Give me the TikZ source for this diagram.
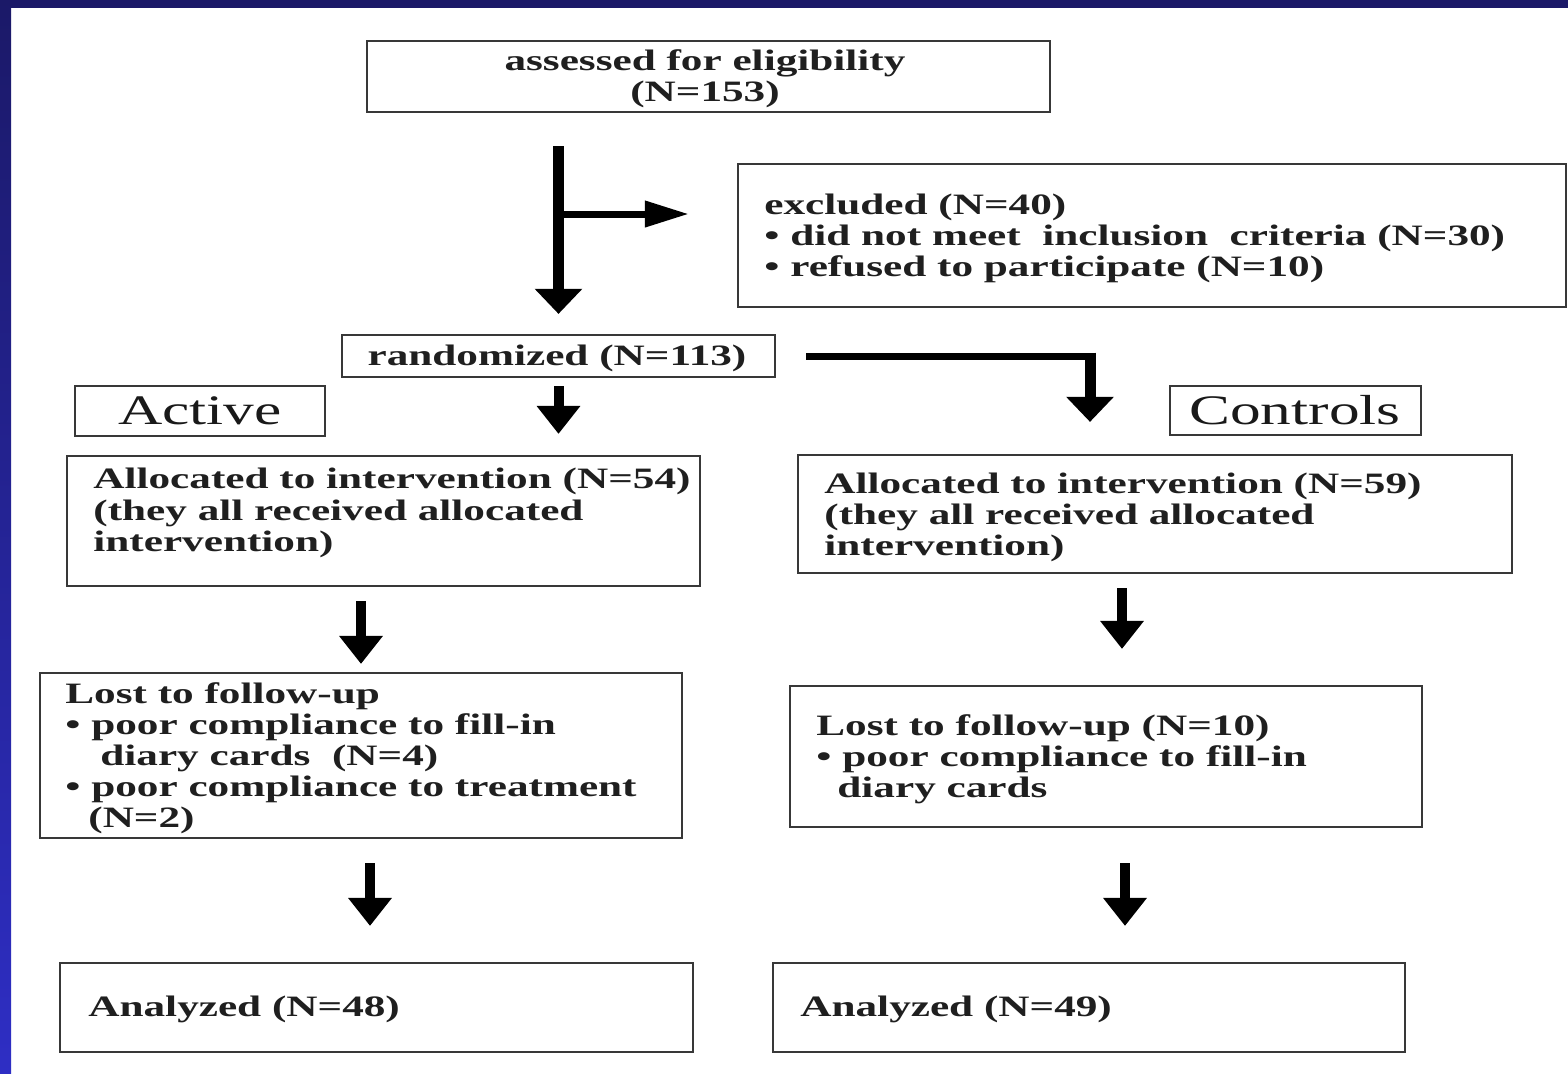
\documentclass[tikz,border=0pt]{standalone}
\usepackage{fontspec}
\newfontfamily\flowfont{Liberation Serif}[FakeStretch=1.46]
\usetikzlibrary{arrows.meta,fit,calc}
\definecolor{navy}{RGB}{27,25,104}
\definecolor{blueb}{RGB}{46,46,196}
\begin{document}
\begin{tikzpicture}[x=0.5pt,y=-0.5pt,
  box/.style={draw=black!78, line width=1.1pt, inner sep=0pt},
  txt/.style={font=\flowfont\bfseries\fontsize{14.8}{15.5}\selectfont, text=black!88, inner sep=0pt, anchor=base west},
  ctxt/.style={txt, anchor=base},
  bigtxt/.style={font=\flowfont\fontsize{21}{24}\selectfont, text=black!90, inner sep=0pt, anchor=base},
  thickarr/.style={line width=5.5pt, -{Triangle[width=23pt,length=12.5pt]}},
  smallarr/.style={line width=5pt, -{Triangle[width=21pt,length=14pt]}},
  sidearr/.style={line width=3.5pt, -{Triangle[width=12.5pt,length=22pt]}},
  plainline/.style={line width=3.5pt}
]
\useasboundingbox (0,0) rectangle (1568,1073);
\fill[white] (0,0) rectangle (1568,1073);
\fill[navy] (0,0) rectangle (1568,8);
\shade[top color=navy, bottom color=blueb] (0,0) rectangle (11,1073);

% boxes
\node[box, fit={(367,41) (1050,112)}] (assess) {};
\node[box, fit={(738,164) (1566,307)}] (excl) {};
\node[box, fit={(342,335) (775,377)}] (rand) {};
\node[box, fit={(75,386) (325,436)}] (act) {};
\node[box, fit={(1170,386) (1421,435)}] (ctrl) {};
\node[box, fit={(67,456) (700,586)}] (allocL) {};
\node[box, fit={(798,455) (1512,573)}] (allocR) {};
\node[box, fit={(40,673) (682,838)}] (lostL) {};
\node[box, fit={(790,686) (1422,827)}] (lostR) {};
\node[box, fit={(60,963) (693,1052)}] (anaL) {};
\node[box, fit={(773,963) (1405,1052)}] (anaR) {};

% texts
\node[ctxt] (t1a) at (705,70) {assessed for eligibility};
\node[ctxt] (t1b) at (705,101) {(N=153)};
\node[txt] (t2a) at (764,214) {excluded (N=40)};
\node[txt] (t2b) at (764,245) {• did not meet\ \ inclusion\ \ criteria (N=30)};
\node[txt] (t2c) at (764,276) {• refused to participate (N=10)};
\node[ctxt] (t3) at (557,365) {randomized (N=113)};
\node[bigtxt] (t4) at (200,424) {Active};
\node[bigtxt] (t5) at (1295,424) {Controls};
\node[txt] (t6a) at (93,488) {Allocated to intervention (N=54)};
\node[txt] (t6b) at (93,520) {(they all received allocated};
\node[txt] (t6c) at (93,551) {intervention)};
\node[txt] (t7a) at (824,493) {Allocated to intervention (N=59)};
\node[txt] (t7b) at (824,524) {(they all received allocated};
\node[txt] (t7c) at (824,555) {intervention)};
\node[txt] (t8a) at (65,703) {Lost to follow-up};
\node[txt] (t8b) at (65,734) {• poor compliance to fill-in};
\node[txt] (t8c) at (100,765) {diary cards\ \ (N=4)};
\node[txt] (t8d) at (65,796) {• poor compliance to treatment};
\node[txt] (t8e) at (88,827) {(N=2)};
\node[txt] (t9a) at (816,735) {Lost to follow-up (N=10)};
\node[txt] (t9b) at (816,766) {• poor compliance to fill-in};
\node[txt] (t9c) at (837,797) {diary cards};
\node[txt] (t10) at (88,1016) {Analyzed (N=48)};
\node[txt] (t11) at (800,1016) {Analyzed (N=49)};

% connectors
\draw[thickarr, shorten <=16.5pt, shorten >=10pt] (assess.south -| rand.north) -- (rand.north);
\coordinate (br) at (558.5,214);
\draw[sidearr, shorten >=24pt] (br) -- (br -| excl.west);
\draw[smallarr, shorten <=4pt, shorten >=10.5pt] (rand.south) -- (rand.south |- allocL.north);
\coordinate (elbx) at (1090,0);
\coordinate (elb) at (rand.east -| elbx);
\draw[plainline, shorten <=15pt] (rand.east) -- (elb);
\draw[thickarr, shorten <=-1.75pt, shorten >=16pt] (elb) -- (elb |- allocR.north);
\draw[smallarr, shorten <=7pt, shorten >=4pt] (lostL.north |- allocL.south) -- (lostL.north);
\coordinate (a2x) at (1122,0);
\draw[smallarr, shorten <=7pt, shorten >=18pt] (allocR.south -| a2x) -- (lostR.north -| a2x);
\coordinate (a3x) at (370,0);
\draw[smallarr, shorten <=12pt, shorten >=18pt] (lostL.south -| a3x) -- (anaL.north -| a3x);
\coordinate (a4x) at (1125,0);
\draw[smallarr, shorten <=17.5pt, shorten >=18pt] (lostR.south -| a4x) -- (anaR.north -| a4x);
\end{tikzpicture}
\end{document}
